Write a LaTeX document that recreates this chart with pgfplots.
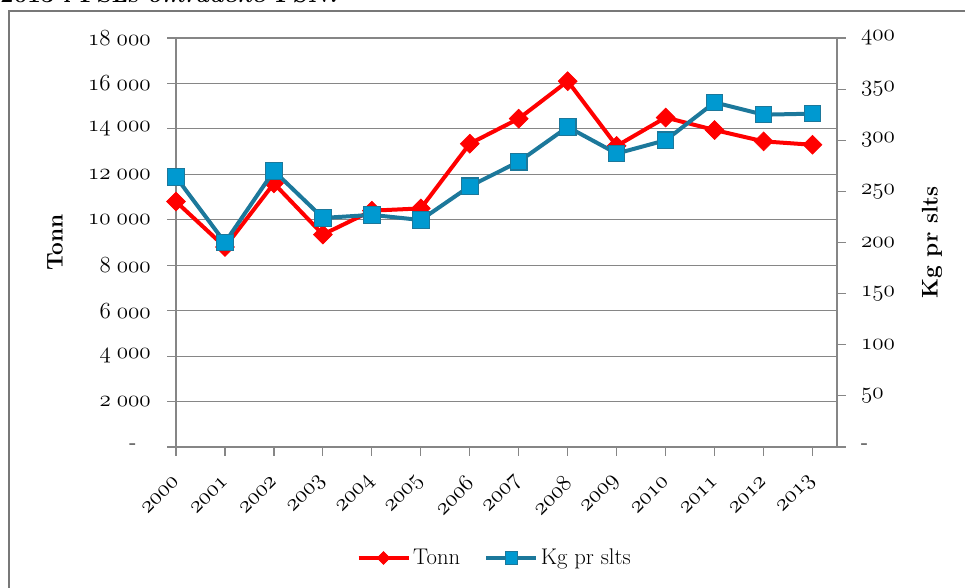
\documentclass[border=0pt]{standalone}
\usepackage{pgfplots}
\pgfplotsset{compat=1.18}
\definecolor{gridgray}{RGB}{134,134,134}
\definecolor{framegray}{RGB}{120,120,120}
\definecolor{kgfill}{RGB}{0,153,208}
\definecolor{kgline}{RGB}{28,120,155}
\newcommand{\osn}[1]{{\fontencoding{OML}\fontfamily{cmm}\fontseries{m}\fontshape{it}\fontsize{17.28}{20}\selectfont #1}}
\newcommand{\osnn}[2]{\osn{#1}\kern4.5pt\osn{#2}}
\newcommand{\dash}{{\fontsize{17.28}{20}\selectfont -}}
\pgfplotsset{
  tonnstyle/.style={red, line width=3pt, mark=square*, mark size=5pt,
     mark options={rotate=45, solid, fill=red, draw=red, line width=0.5pt}},
  kgstyle/.style={kgline, line width=3pt, mark=square*, mark size=6.2pt,
     mark options={solid, fill=kgfill, draw=kgline, line width=0.8pt}},
  tonnleg/.style={red, line width=3pt, mark=square*, mark size=3.4pt,
     mark options={rotate=45, solid, fill=red, draw=red, line width=0.5pt}},
  kgleg/.style={kgline, line width=3pt, mark=square*, mark size=4.6pt,
     mark options={solid, fill=kgfill, draw=kgline, line width=0.6pt}},
  commonax/.style={
    at={(132pt,105.75pt)}, anchor=south west,
    scale only axis, width=495.75pt, height=306.75pt,
    xmin=0, xmax=13.5,
    scaled y ticks=false, scaled x ticks=false,
    tick align=outside, major tick length=6.5pt,
    tick style={gridgray, line width=0.9pt},
    label style={font=\fontsize{17}{20}\selectfont\bfseries},
  },
}
\pgfplotstableread{
x tonn kg
0 10800 264
1 8800 200
2 11600 270
3 9350 224
4 10400 227
5 10500 222
6 13350 255
7 14450 279
8 16100 313
9 13250 287
10 14500 300
11 13950 337
12 13450 325
13 13300 326
}\datatable
\begin{document}
\begin{tikzpicture}
\useasboundingbox (0pt,0pt) rectangle (723.75pt,441pt);
\draw[framegray, line width=1.5pt] (6.75pt,-20pt) -- (6.75pt,432.75pt) -- (760pt,432.75pt);
\node[anchor=base west, inner sep=0, font=\fontsize{18}{20}\selectfont\bfseries] at (0pt,439pt) {2013 i FSLs \textit{områdene FSN.}};
\begin{axis}[
  commonax,
  ymin=0, ymax=18000,
  axis line style={gridgray, line width=0.9pt},
  ymajorgrids, grid style={gridgray, line width=0.9pt},
  ytick pos=left, xtick pos=bottom,
  ytick={0,2000,...,18000},
  yticklabels={\makebox[16pt][l]{\dash},\osnn{2}{000},\osnn{4}{000},\osnn{6}{000},\osnn{8}{000},\osnn{10}{000},\osnn{12}{000},\osnn{14}{000},\osnn{16}{000},\osnn{18}{000}},
  yticklabel style={anchor=east, xshift=-9pt},
  xtick={0,...,13},
  xticklabels={\osn{2000},\osn{2001},\osn{2002},\osn{2003},\osn{2004},\osn{2005},\osn{2006},\osn{2007},\osn{2008},\osn{2009},\osn{2010},\osn{2011},\osn{2012},\osn{2013}},
  xticklabel style={yshift=-16pt, xshift=1.5pt, rotate=45, anchor=east, inner sep=2pt},
  ylabel={Tonn},
  ylabel style={at={(axis description cs:-0.183,0.5)}, anchor=center},
]
\addplot[tonnstyle] table[x=x, y=tonn] {\datatable};
\end{axis}
\begin{axis}[
  commonax,
  ymin=0, ymax=400,
  axis x line=none, axis y line*=right,
  axis line style={gridgray, line width=0.9pt},
  ytick={0,50,...,400},
  yticklabels={\dash,\osn{50},\osn{100},\osn{150},\osn{200},\osn{250},\osn{300},\osn{350},\osn{400}},
  yticklabel style={anchor=west, xshift=8pt},
  ylabel={Kg pr slts},
  ylabel style={at={(axis description cs:1.1437,0.5)}, anchor=center, rotate=0},
  legend style={at={(axis description cs:0.4826,-0.2714)}, anchor=center, draw=none,
    font=\fontsize{17}{20}\selectfont, legend columns=2,
    /tikz/every even column/.append style={column sep=16pt},
    legend cell align=left},
  legend image code/.code={\draw[mark repeat=2, mark phase=2, #1] plot coordinates {(0pt,0pt) (18.75pt,0pt) (37.5pt,0pt)};},
]
\addlegendimage{tonnleg}
\addlegendentry{Tonn}
\addlegendimage{kgleg}
\addlegendentry{Kg pr slts}
\addplot[kgstyle, forget plot] table[x=x, y=kg] {\datatable};
\end{axis}
\end{tikzpicture}
\end{document}
